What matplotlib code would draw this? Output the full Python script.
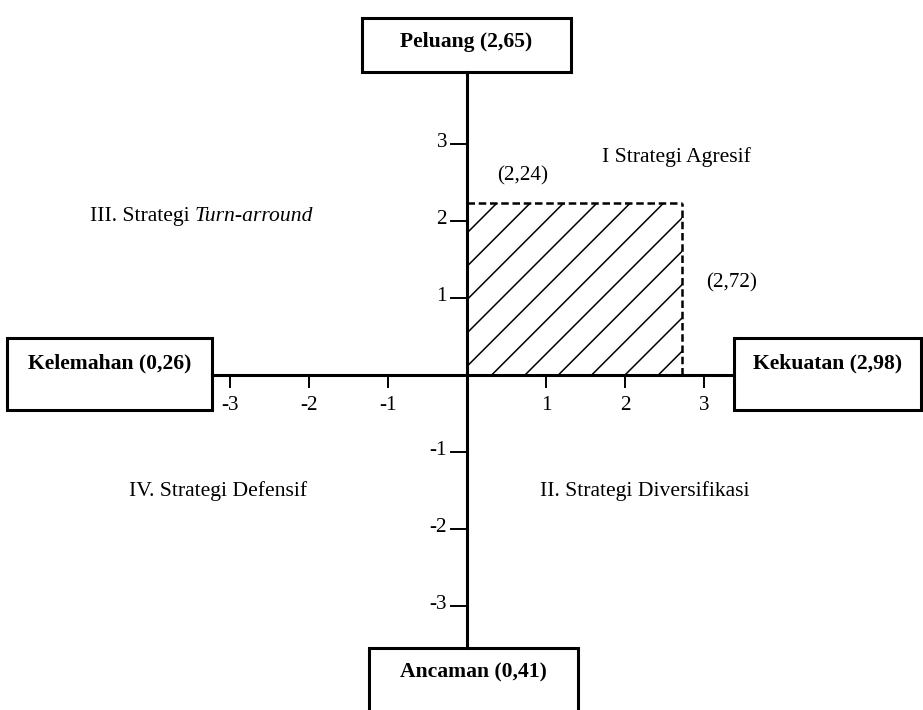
"""
Diagram matriks SWOT (posisi strategi) - kuadran I s/d IV.
"""
import matplotlib
matplotlib.use("Agg")
import matplotlib.pyplot as plt
from matplotlib.patches import Rectangle

# --- Data ---
faktor = ["Peluang", "Kelemahan", "Kekuatan", "Ancaman"]
skor = [2.65, 0.26, 2.98, 0.41]
titik_x = 2.72          # selisih kekuatan - kelemahan
titik_y = 2.24          # selisih peluang - ancaman
ticks = [-3, -2, -1, 1, 2, 3]
kuadran = ["I Strategi Agresif", "II. Strategi Diversifikasi",
           "III. Strategi ", "IV. Strategi Defensif"]
kuadran_miring = "Turn-arround"

DPI = 200
W, H = 923, 710
X0, Y0 = 467, 375       # posisi titik (0,0) dalam piksel
SX, SY = 79, 77         # piksel per satuan


def px(x, y):
    """piksel (dari kiri-atas) -> koordinat data"""
    return (x - X0) / SX, (Y0 - y) / SY


def koma(v):
    return f"{v:.2f}".replace(".", ",")


plt.rcParams["font.family"] = ["Liberation Serif", "DejaVu Serif"]
plt.rcParams["hatch.linewidth"] = 0.55

fig = plt.figure(figsize=(W / DPI, H / DPI), dpi=DPI)
ax = fig.add_axes([0, 0, 1, 1])
ax.set_xlim(-X0 / SX, (W - X0) / SX)
ax.set_ylim(-(H - Y0) / SY, Y0 / SY)
ax.axis("off")

lw = 1.1
fs = 7.8
fs_tick = 7.6

# --- Kotak faktor (kiri, atas, kanan, bawah dalam piksel) ---
kotak = {
    "Peluang": (362, 18, 571, 72, 42),
    "Kelemahan": (7, 338, 212, 410, 363),
    "Kekuatan": (734, 338, 921, 410, 363),
    "Ancaman": (369, 648, 578, 740, 672),
}
for nama, nilai in zip(faktor, skor):
    l, t, r, b, ty = kotak[nama]
    (x1, y1), (x2, y2) = px(l, t), px(r, b)
    ax.add_patch(Rectangle((x1, y2), x2 - x1, y1 - y2, fill=False,
                           lw=lw, ec="black", clip_on=False))
    cx, cy = px((l + r) / 2, ty)
    ax.text(cx, cy, f"{nama} ({koma(nilai)})", ha="center", va="center",
            fontsize=fs, fontweight="bold")

# --- Sumbu ---
ax.plot([px(212, 0)[0], px(734, 0)[0]], [0, 0], color="black", lw=lw)
ax.plot([0, 0], [px(0, 72)[1], px(0, 648)[1]], color="black", lw=lw)

tick_len_x = 10 / SY
tick_len_y = 14 / SX
for t in ticks:
    ax.plot([t, t], [-0.03, -0.03 - tick_len_x], color="black", lw=0.7)
    ax.text(t, -30 / SY, str(t), ha="center", va="center", fontsize=fs_tick)
    ax.plot([-0.03 - tick_len_y, -0.03], [t, t], color="black", lw=0.7)
    ax.text(-20 / SX, t + 2 / SY, str(t), ha="right", va="center",
            fontsize=fs_tick)

# --- Area posisi (diarsir) ---
ax.add_patch(Rectangle((0, 0), titik_x, titik_y, fill=False, hatch="//",
                       ec="black", lw=0))
ax.plot([0, titik_x], [titik_y, titik_y], color="black", lw=0.9,
        ls=(0, (3, 1.5)))
ax.plot([titik_x, titik_x], [0, titik_y], color="black", lw=0.9,
        ls=(0, (3, 1.5)))
ax.text(*px(523, 176), f"({koma(titik_y)})", ha="center", va="center",
        fontsize=fs_tick)
ax.text(*px(732, 283), f"({koma(titik_x)})", ha="center", va="center",
        fontsize=fs_tick)

# --- Label kuadran ---
ax.text(*px(676, 157), kuadran[0], ha="center", va="center", fontsize=fs)
ax.text(*px(645, 491), kuadran[1], ha="center", va="center", fontsize=fs)
t3 = ax.text(*px(90, 216), kuadran[2], ha="left", va="center", fontsize=fs)
ax.annotate(kuadran_miring, xy=(1, 0), xycoords=t3, ha="left", va="bottom",
            fontsize=fs, style="italic")
ax.text(*px(218, 491), kuadran[3], ha="center", va="center", fontsize=fs)

fig.savefig("out.png", dpi=DPI)
